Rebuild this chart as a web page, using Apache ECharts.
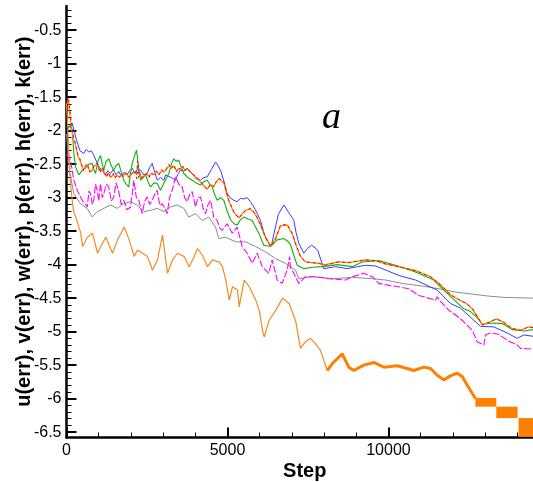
<!DOCTYPE html>
<html>
<head>
<meta charset="utf-8">
<title>Residual history</title>
<script src="https://cdn.jsdelivr.net/npm/echarts@6/dist/echarts.min.js"></script>
<style>
  html, body { margin: 0; padding: 0; background: #fff; }
  #chart { width: 533px; height: 482px; }
</style>
</head>
<body>
<div id="chart"></div>
<script>
// Convergence history of the residuals, [step, log10(err)] pairs

const uErr = [[0,-1.55],[60,-1.50],[124,-1.79],[200,-2.05],[280,-2.19],[350,-2.35],[435,-2.44],[520,-2.60],[580,-2.52],[643,-2.49],[720,-2.62],[798,-2.59],[870,-2.50],[954,-2.49],[1040,-2.63],[1100,-2.55],[1159,-2.59],[1250,-2.70],[1300,-2.62],[1367,-2.69],[1450,-2.64],[1510,-2.71],[1575,-2.66],[1650,-2.70],[1720,-2.65],[1780,-2.69],[1860,-2.63],[1920,-2.70],[1988,-2.66],[2060,-2.62],[2143,-2.59],[2180,-2.72],[2205,-2.45],[2235,-2.70],[2267,-2.62],[2330,-2.71],[2401,-2.69],[2480,-2.64],[2560,-2.70],[2640,-2.63],[2712,-2.66],[2800,-2.60],[2880,-2.66],[2950,-2.58],[3022,-2.61],[3100,-2.57],[3180,-2.50],[3250,-2.57],[3333,-2.51],[3420,-2.62],[3480,-2.55],[3541,-2.59],[3620,-2.53],[3680,-2.60],[3749,-2.56],[3850,-2.62],[3954,-2.66],[4060,-2.70],[4162,-2.76],[4270,-2.82],[4370,-2.88],[4470,-2.80],[4575,-2.84],[4650,-2.76],[4730,-2.71],[4810,-2.74],[4886,-2.76],[4960,-2.90],[5041,-3.04],[5196,-3.21],[5352,-3.31],[5560,-3.19],[5715,-3.16],[5870,-3.24],[6026,-3.40],[6181,-3.59],[6337,-3.73],[6492,-3.62],[6647,-3.41],[6855,-3.40],[7010,-3.53],[7113,-3.68],[7268,-3.88],[7423,-3.96],[7827,-3.98],[8045,-4.01],[8448,-3.96],[8759,-3.97],[9287,-3.93],[9598,-3.94],[9908,-3.99],[10312,-4.03],[10840,-4.09],[11306,-4.18],[11616,-4.30],[11927,-4.45],[12175,-4.52],[12424,-4.58],[12610,-4.66],[12766,-4.78],[12921,-4.90],[13170,-4.85],[13356,-4.81],[13573,-4.86],[13822,-4.95],[14101,-4.98],[14350,-4.93],[14500,-4.94]];

const u2Err = [[0,-1.60],[60,-1.55],[124,-1.85],[200,-2.10],[280,-2.22],[350,-2.38],[435,-2.47],[520,-2.58],[580,-2.54],[643,-2.51],[720,-2.60],[798,-2.60],[870,-2.52],[954,-2.51],[1040,-2.60],[1100,-2.57],[1159,-2.61],[1250,-2.68],[1300,-2.64],[1367,-2.70],[1450,-2.66],[1510,-2.69],[1575,-2.67],[1650,-2.69],[1720,-2.66],[1780,-2.68],[1860,-2.65],[1920,-2.68],[1988,-2.67],[2060,-2.63],[2143,-2.61],[2205,-2.62],[2267,-2.64],[2330,-2.69],[2401,-2.68],[2480,-2.65],[2560,-2.68],[2640,-2.64],[2712,-2.66],[2800,-2.62],[2880,-2.65],[2950,-2.60],[3022,-2.62],[3100,-2.58],[3180,-2.53],[3250,-2.56],[3333,-2.53],[3420,-2.60],[3480,-2.57],[3541,-2.59],[3620,-2.55],[3680,-2.59],[3749,-2.57],[3850,-2.62],[3954,-2.67],[4060,-2.71],[4162,-2.77],[4270,-2.83],[4370,-2.87],[4470,-2.81],[4575,-2.83],[4650,-2.77],[4730,-2.72],[4810,-2.75],[4886,-2.78],[4960,-2.92],[5041,-3.05],[5196,-3.22],[5352,-3.30],[5560,-3.19],[5715,-3.17],[5870,-3.25],[6026,-3.41],[6181,-3.60],[6337,-3.72],[6492,-3.61],[6647,-3.42],[6855,-3.41],[7010,-3.54],[7113,-3.69],[7268,-3.88],[7423,-3.96],[7827,-3.98],[8045,-4.00],[8448,-3.96],[8759,-3.97],[9287,-3.93],[9598,-3.94],[9908,-3.99],[10312,-4.03],[10840,-4.09],[11306,-4.18],[11616,-4.30],[11927,-4.45],[12175,-4.52],[12424,-4.58],[12610,-4.66],[12766,-4.78],[12921,-4.90],[13170,-4.85],[13356,-4.81],[13573,-4.86],[13822,-4.95],[14101,-4.98],[14350,-4.93],[14500,-4.94]];

const vErr = [[0,-1.95],[124,-1.94],[186,-2.04],[230,-2.35],[280,-2.54],[382,-2.66],[480,-2.60],[590,-2.56],[700,-2.50],[798,-2.49],[850,-2.58],[901,-2.64],[980,-2.45],[1056,-2.37],[1110,-2.50],[1159,-2.59],[1230,-2.46],[1314,-2.42],[1390,-2.52],[1469,-2.59],[1540,-2.52],[1624,-2.49],[1700,-2.62],[1780,-2.74],[1850,-2.80],[1935,-2.84],[1990,-2.62],[2041,-2.49],[2110,-2.38],[2174,-2.29],[2240,-2.55],[2298,-2.74],[2380,-2.70],[2454,-2.66],[2530,-2.76],[2609,-2.84],[2720,-2.78],[2817,-2.79],[2920,-2.89],[3050,-2.76],[3177,-2.64],[3260,-2.50],[3333,-2.42],[3410,-2.46],[3488,-2.44],[3560,-2.54],[3643,-2.64],[3770,-2.70],[3904,-2.74],[4030,-2.78],[4162,-2.81],[4270,-2.76],[4370,-2.74],[4450,-2.80],[4525,-2.84],[4600,-2.95],[4681,-3.04],[4790,-3.00],[4886,-3.04],[4990,-3.20],[5094,-3.33],[5200,-3.39],[5302,-3.41],[5400,-3.33],[5507,-3.29],[5640,-3.32],[5768,-3.34],[5973,-3.53],[6128,-3.71],[6336,-3.73],[6544,-3.63],[6749,-3.61],[6870,-3.65],[6957,-3.70],[7060,-3.86],[7166,-4.01],[7371,-4.06],[7650,-4.04],[7942,-4.03],[8408,-4.00],[8874,-4.03],[9184,-3.96],[9700,-3.94],[10219,-4.01],[10840,-4.11],[11408,-4.23],[11824,-4.43],[12340,-4.66],[12548,-4.70],[12756,-4.79],[12912,-4.89],[13272,-4.87],[13533,-4.88],[13844,-4.97],[14204,-4.99],[14500,-4.97]];

const wErr = [[0,-2.00],[62,-1.95],[177,-1.89],[311,-2.14],[420,-2.30],[537,-2.34],[610,-2.28],[693,-2.32],[770,-2.30],[848,-2.37],[950,-2.48],[1030,-2.55],[1109,-2.59],[1200,-2.66],[1280,-2.60],[1367,-2.64],[1450,-2.58],[1540,-2.66],[1624,-2.61],[1700,-2.68],[1790,-2.62],[1885,-2.66],[1960,-2.60],[2041,-2.56],[2120,-2.64],[2200,-2.58],[2298,-2.59],[2400,-2.66],[2507,-2.64],[2580,-2.55],[2662,-2.49],[2740,-2.62],[2817,-2.74],[2920,-2.70],[3022,-2.74],[3080,-2.66],[3128,-2.64],[3250,-2.70],[3386,-2.74],[3460,-2.65],[3541,-2.59],[3640,-2.60],[3749,-2.56],[3830,-2.60],[3904,-2.64],[4030,-2.72],[4162,-2.74],[4270,-2.70],[4370,-2.69],[4500,-2.58],[4628,-2.47],[4700,-2.52],[4783,-2.59],[4890,-2.76],[4991,-2.94],[5100,-3.01],[5196,-3.04],[5300,-3.06],[5404,-3.01],[5510,-3.02],[5613,-3.00],[5710,-3.06],[5818,-3.14],[5930,-3.24],[6026,-3.34],[6150,-3.56],[6283,-3.68],[6360,-3.72],[6439,-3.55],[6580,-3.25],[6749,-3.11],[6900,-3.22],[7010,-3.30],[7060,-3.34],[7130,-3.52],[7215,-3.68],[7370,-3.83],[7480,-3.76],[7610,-3.71],[7800,-3.78],[7900,-3.93],[7992,-4.06],[8360,-4.03],[8719,-4.06],[9040,-4.03],[9287,-4.01],[9598,-4.02],[9908,-4.08],[10312,-4.16],[10840,-4.23],[11514,-4.38],[11927,-4.58],[12238,-4.65],[12651,-4.83],[12858,-4.92],[13272,-4.93],[13688,-5.02],[13999,-5.10],[14205,-5.05],[14500,-5.07]];

const pErr = [[0,-2.35],[124,-2.44],[227,-2.74],[332,-2.89],[488,-3.04],[643,-3.14],[700,-2.90],[745,-2.94],[800,-3.10],[848,-3.04],[900,-2.80],[954,-2.89],[1000,-3.05],[1056,-2.79],[1110,-3.00],[1159,-2.94],[1240,-2.80],[1314,-2.84],[1390,-3.05],[1469,-2.99],[1540,-2.78],[1624,-2.91],[1700,-3.10],[1780,-3.04],[1880,-3.18],[1988,-3.14],[2040,-2.95],[2091,-2.74],[2170,-3.00],[2246,-3.04],[2351,-3.24],[2430,-3.05],[2507,-2.99],[2580,-3.10],[2662,-3.04],[2740,-2.95],[2817,-2.89],[2900,-3.12],[2972,-3.09],[3050,-3.15],[3128,-3.24],[3200,-3.00],[3283,-2.89],[3386,-2.69],[3490,-2.80],[3593,-2.84],[3670,-3.00],[3749,-3.06],[3830,-2.95],[3904,-2.91],[4007,-3.14],[4080,-3.00],[4162,-2.99],[4240,-3.15],[4317,-3.24],[4400,-3.10],[4473,-3.04],[4575,-3.29],[4681,-3.34],[4760,-3.45],[4836,-3.49],[4991,-3.39],[5147,-3.53],[5302,-3.44],[5457,-3.73],[5613,-3.83],[5768,-3.98],[5923,-3.83],[6079,-4.03],[6283,-4.13],[6389,-3.93],[6544,-4.23],[6700,-4.28],[6855,-4.08],[6930,-3.88],[6957,-4.05],[7010,-4.08],[7215,-4.28],[7423,-4.18],[7734,-4.18],[8147,-4.21],[8666,-4.23],[8874,-4.18],[9234,-4.13],[9495,-4.18],[9700,-4.28],[10011,-4.31],[10321,-4.33],[10632,-4.36],[10942,-4.46],[11098,-4.48],[11461,-4.53],[11514,-4.48],[11616,-4.55],[11874,-4.68],[12030,-4.73],[12290,-4.83],[12601,-4.98],[12756,-5.15],[12963,-5.20],[13014,-5.05],[13170,-5.02],[13427,-5.04],[13688,-5.13],[13999,-5.20],[14101,-5.25],[14500,-5.26]];

const hErr = [[0,-2.05],[93,-2.60],[227,-2.94],[435,-3.09],[643,-3.16],[798,-3.29],[954,-3.21],[1159,-3.16],[1367,-3.11],[1575,-3.16],[1780,-3.09],[1988,-3.06],[2196,-3.11],[2401,-3.21],[2609,-3.19],[2817,-3.16],[3022,-3.21],[3230,-3.14],[3438,-3.11],[3643,-3.16],[3799,-3.29],[4007,-3.24],[4215,-3.34],[4420,-3.29],[4628,-3.44],[4730,-3.61],[4939,-3.59],[5249,-3.66],[5560,-3.66],[5870,-3.73],[6181,-3.81],[6492,-3.91],[6802,-3.98],[7113,-4.08],[7215,-4.21],[7631,-4.18],[8253,-4.21],[8874,-4.19],[9495,-4.21],[9908,-4.23],[10427,-4.28],[11048,-4.32],[11564,-4.36],[12082,-4.41],[12601,-4.44],[13117,-4.47],[13635,-4.49],[14500,-4.50]];

const kErr = [[0,-1.60],[62,-2.20],[124,-2.80],[217,-3.20],[289,-3.29],[444,-3.53],[497,-3.73],[652,-3.59],[808,-3.53],[963,-3.83],[1065,-3.73],[1221,-3.59],[1429,-3.83],[1584,-3.63],[1792,-3.44],[1947,-3.63],[2103,-3.88],[2205,-3.78],[2361,-3.83],[2516,-3.88],[2671,-4.08],[2826,-3.93],[2982,-3.56],[3137,-4.13],[3292,-3.93],[3448,-3.83],[3656,-3.88],[3811,-4.03],[3966,-3.88],[4069,-3.76],[4224,-3.86],[4379,-4.03],[4535,-3.93],[4743,-3.96],[4845,-4.03],[4948,-4.23],[5053,-4.53],[5156,-4.33],[5311,-4.38],[5364,-4.63],[5519,-4.23],[5675,-4.33],[5880,-4.53],[5995,-4.70],[6088,-4.98],[6141,-5.08],[6296,-4.83],[6501,-4.68],[6709,-4.50],[6917,-4.58],[7122,-4.85],[7268,-5.25],[7423,-5.15],[7579,-5.10],[7734,-5.18],[7889,-5.28],[8097,-5.58],[8253,-5.48],[8563,-5.33],[8768,-5.53],[8924,-5.58],[9234,-5.50],[9545,-5.46],[9855,-5.53],[10272,-5.51],[10582,-5.55],[10787,-5.58],[11098,-5.53],[11306,-5.55],[11514,-5.65],[11719,-5.72],[11927,-5.66],[12135,-5.62],[12290,-5.67],[12446,-5.80],[12601,-5.92],[12703,-6.00]];

// Late k(err) oscillation bands: [stepFrom, stepTo, upper, lower]
const kBands = [[12700,13350,-5.99,-6.12],[13350,14010,-6.12,-6.29],[14040,14500,-6.29,-6.57]];

const xMajorTicks = [0, 5000, 10000];
const xMinorTicks = [1000,2000,3000,4000,6000,7000,8000,9000,11000,12000,13000,14000];
const yMajorTicks = [-6.5,-6,-5.5,-5,-4.5,-4,-3.5,-3,-2.5,-2,-1.5,-1,-0.5];

const yMinorTicks = [];
for (let i = -65; i <= -2; i++) {
  if (i % 5 !== 0) yMinorTicks.push(i / 10);
}

const X_MIN = 0, X_MAX = 14800;
const Y_MIN = -6.58, Y_MAX = -0.14;
const FONT = '"Liberation Sans", Arial, sans-serif';

const chart = echarts.init(document.getElementById('chart'), null, { renderer: 'canvas' });

// thin and heavy parts of the k(err) trace
const kThin = kErr.filter(p => p[0] <= 8100);
const kThick = kErr.filter(p => p[0] >= 8097);

function lineSeries(name, data, color, width, type, z) {
  return {
    name, type: 'line', data,
    xAxisIndex: 0, yAxisIndex: 0,
    showSymbol: false, symbol: 'none', animation: false,
    lineStyle: { color, width, type: type || 'solid' },
    z: z || 2
  };
}

const axisLineStyle = { color: '#000', width: 2.5 };
const plainNumber = v => String(v);

chart.setOption({
  backgroundColor: '#fff',
  animation: false,
  grid: { left: 66.5, right: -10, top: 6, bottom: 44.5, containLabel: false, outerBoundsMode: 'none' },
  xAxis: [
    {
      type: 'value', min: X_MIN, max: X_MAX,
      name: 'Step', nameLocation: 'middle', nameGap: 24, nameMoveOverlap: false,
      nameTextStyle: { fontFamily: FONT, fontSize: 20, fontWeight: 'bold', color: '#000' },
      axisLine: { show: true, lineStyle: axisLineStyle },
      axisTick: { show: true, inside: true, length: 10, lineStyle: { color: '#000', width: 2 }, customValues: xMajorTicks },
      axisLabel: { show: true, customValues: xMajorTicks, formatter: plainNumber, margin: 5, fontFamily: FONT, fontSize: 16, color: '#000' },
      splitLine: { show: false }
    },
    {
      type: 'value', min: X_MIN, max: X_MAX, position: 'bottom',
      axisLine: { show: false },
      axisTick: { show: true, inside: true, length: 5, lineStyle: { color: '#000', width: 1 }, customValues: xMinorTicks },
      axisLabel: { show: false },
      splitLine: { show: false }
    }
  ],
  yAxis: [
    {
      type: 'value', min: Y_MIN, max: Y_MAX,
      name: 'u(err), v(err), w(err), p(err), h(err), k(err)',
      nameLocation: 'middle', nameGap: 32, nameMoveOverlap: false,
      nameTextStyle: { fontFamily: FONT, fontSize: 20, fontWeight: 'bold', color: '#000' },
      axisLine: { show: true, lineStyle: axisLineStyle },
      axisTick: { show: true, inside: true, length: 10, lineStyle: { color: '#000', width: 2 }, customValues: yMajorTicks },
      axisLabel: { show: true, customValues: yMajorTicks, formatter: plainNumber, margin: 5, fontFamily: FONT, fontSize: 16, color: '#000' },
      splitLine: { show: false }
    },
    {
      type: 'value', min: Y_MIN, max: Y_MAX, position: 'left',
      axisLine: { show: false },
      axisTick: { show: true, inside: true, length: 5, lineStyle: { color: '#000', width: 1 }, customValues: yMinorTicks },
      axisLabel: { show: false },
      splitLine: { show: false }
    }
  ],
  graphic: [
    {
      type: 'text', left: 322, top: 99, z: 10,
      style: { text: 'a', font: 'italic 38px "Liberation Serif", "Times New Roman", serif', fill: '#000' }
    }
  ],
  series: [
    lineSeries('h', hErr, '#8c8c8c', 1, 'solid', 2),
    lineSeries('p', pErr, '#ff00ff', 1.1, [7, 2], 3),
    lineSeries('w', wErr, '#3a3aff', 1, 'solid', 4),
    lineSeries('v', vErr, '#10b010', 1.1, 'solid', 5),
    lineSeries('u2', u2Err, '#ff8000', 1.2, 'solid', 6),
    lineSeries('u', uErr, '#ff0000', 1, [3, 3], 7),
    lineSeries('k', kThin, '#f68a1e', 1.2, 'solid', 3),
    lineSeries('k-late', kThick, '#ff8000', 3, 'solid', 3),
    {
      name: 'k-bands', type: 'custom', xAxisIndex: 0, yAxisIndex: 0,
      data: kBands, animation: false, z: 3,
      renderItem: function (params, api) {
        const p0 = api.coord([api.value(0), api.value(2)]);
        const p1 = api.coord([api.value(1), api.value(3)]);
        return {
          type: 'rect',
          shape: { x: p0[0], y: p0[1], width: p1[0] - p0[0], height: p1[1] - p0[1] },
          style: { fill: '#ff8000' }
        };
      },
      encode: { x: [0, 1], y: [2, 3] }
    }
  ]
});
</script>
</body>
</html>
